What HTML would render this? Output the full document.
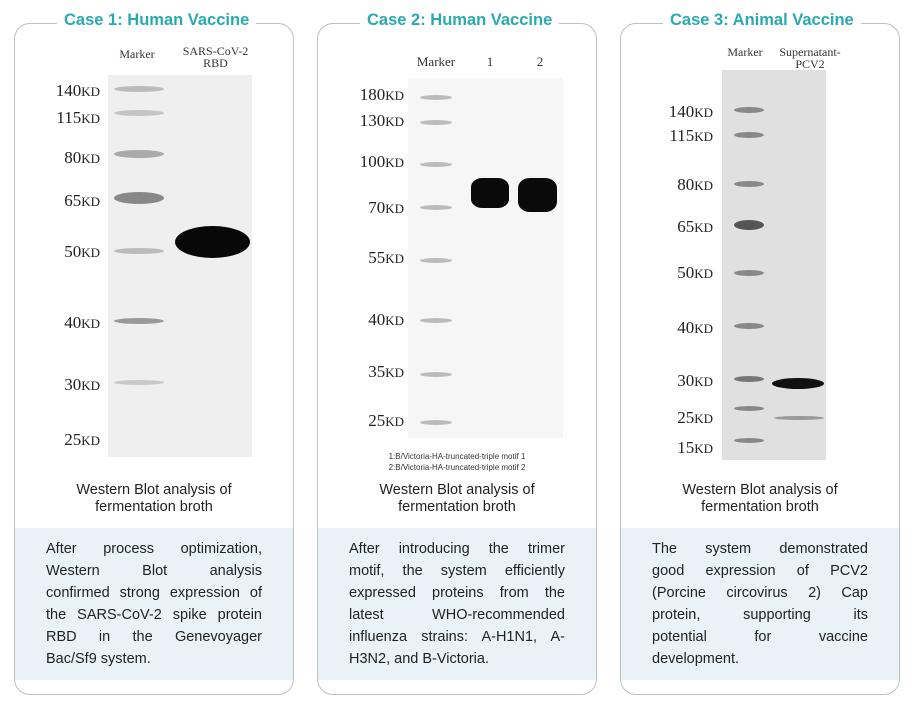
<!DOCTYPE html>
<html><head><meta charset="utf-8"><style>
*{margin:0;padding:0;box-sizing:border-box}
body{width:916px;height:713px;background:#fff;position:relative;font-family:"Liberation Sans",sans-serif;overflow:hidden}
.card{position:absolute;top:23px;width:280px;height:672px;border:1.5px solid #bfbfbf;border-radius:16px;overflow:hidden}
.title{position:absolute;top:11px;background:#fff;color:#2aa9b0;font-weight:bold;font-size:16.5px;padding:0 7px;white-space:nowrap}
.blue{position:absolute;left:0;right:0;top:504px;height:152px;background:#e9f3f7}
.txt{position:absolute;left:31px;width:216px;top:514px;font-size:14.5px;line-height:22px;color:#222}
.txt div{text-align:justify;text-align-last:justify;white-space:nowrap;overflow:visible}
.txt div.l{text-align-last:left}
.cap{position:absolute;left:0;right:0;top:458px;text-align:center;font-size:14.5px;line-height:17px;color:#222}
.gel{position:absolute;background:#efefef}
.lab{position:absolute;font-family:"Liberation Serif",serif;font-size:17px;color:#222;text-align:right;width:60px}
.lab small{font-size:13px}
.band{position:absolute;border-radius:50%}
.hd{position:absolute;font-family:"Liberation Serif",serif;font-size:12px;color:#333;text-align:center;line-height:12px}
</style></head><body>

<div class="card" style="left:14px"></div>
<div class="card" style="left:317px"></div>
<div class="card" style="left:620px"></div>
<div class="title" style="left:57px">Case 1: Human Vaccine</div>
<div class="title" style="left:360px">Case 2: Human Vaccine</div>
<div class="title" style="left:663px">Case 3: Animal Vaccine</div>

<!-- card1 -->
<div style="position:absolute;left:15px;top:24px;width:278px;height:670px">
<div class="blue"></div>
<div class="cap" style="top:458px">Western Blot analysis of<br>fermentation broth</div>
<div class="txt"><div>After process optimization,</div><div>Western Blot analysis</div><div>confirmed strong expression of</div><div>the SARS-CoV-2 spike protein</div><div>RBD in the Genevoyager</div><div class="l">Bac/Sf9 system.</div></div>
</div>
<div class="hd" style="left:112px;top:48px;width:50px">Marker</div>
<div class="hd" style="left:178px;top:45px;width:75px">SARS-CoV-2<br>RBD</div>
<div class="gel" style="left:108px;top:75px;width:144px;height:382px"></div>
<div class="band" style="left:114px;top:86px;width:50px;height:6px;background:#bbb"></div>
<div class="band" style="left:114px;top:110px;width:50px;height:6px;background:#c4c4c4"></div>
<div class="band" style="left:114px;top:150px;width:50px;height:8px;background:#aaa"></div>
<div class="band" style="left:114px;top:192px;width:50px;height:12px;background:#888"></div>
<div class="band" style="left:114px;top:248px;width:50px;height:6px;background:#bbb"></div>
<div class="band" style="left:114px;top:318px;width:50px;height:6px;background:#999"></div>
<div class="band" style="left:114px;top:380px;width:50px;height:5px;background:#c8c8c8"></div>
<div class="band" style="left:175px;top:226px;width:75px;height:32px;background:#080808"></div>
<div class="lab" style="left:40px;top:81px">140<small>KD</small></div>
<div class="lab" style="left:40px;top:108px">115<small>KD</small></div>
<div class="lab" style="left:40px;top:148px">80<small>KD</small></div>
<div class="lab" style="left:40px;top:191px">65<small>KD</small></div>
<div class="lab" style="left:40px;top:242px">50<small>KD</small></div>
<div class="lab" style="left:40px;top:313px">40<small>KD</small></div>
<div class="lab" style="left:40px;top:375px">30<small>KD</small></div>
<div class="lab" style="left:40px;top:430px">25<small>KD</small></div>

<!-- card2 -->
<div style="position:absolute;left:318px;top:24px;width:278px;height:670px">
<div class="blue"></div>
<div class="cap">Western Blot analysis of<br>fermentation broth</div>
<div class="txt"><div>After introducing the trimer</div><div>motif, the system efficiently</div><div>expressed proteins from the</div><div>latest WHO-recommended</div><div>influenza strains: A-H1N1, A-</div><div class="l">H3N2, and B-Victoria.</div></div>
</div>
<div class="hd" style="left:408px;top:56px;width:56px;font-size:13px">Marker</div>
<div class="hd" style="left:482px;top:56px;width:16px;font-size:13px">1</div>
<div class="hd" style="left:532px;top:56px;width:16px;font-size:13px">2</div>
<div class="gel" style="left:408px;top:78px;width:155px;height:360px;background:#f6f6f6"></div>
<div class="band" style="left:420px;top:95px;width:32px;height:5px;background:#bbb"></div>
<div class="band" style="left:420px;top:120px;width:32px;height:5px;background:#bbb"></div>
<div class="band" style="left:420px;top:162px;width:32px;height:5px;background:#bbb"></div>
<div class="band" style="left:420px;top:205px;width:32px;height:5px;background:#bbb"></div>
<div class="band" style="left:420px;top:258px;width:32px;height:5px;background:#bbb"></div>
<div class="band" style="left:420px;top:318px;width:32px;height:5px;background:#bbb"></div>
<div class="band" style="left:420px;top:372px;width:32px;height:5px;background:#bbb"></div>
<div class="band" style="left:420px;top:420px;width:32px;height:5px;background:#bbb"></div>
<div class="band" style="left:471px;top:178px;width:38px;height:30px;background:#0a0a0a;border-radius:30%"></div>
<div class="band" style="left:518px;top:178px;width:39px;height:34px;background:#0a0a0a;border-radius:30%"></div>
<div class="lab" style="left:344px;top:85px">180<small>KD</small></div>
<div class="lab" style="left:344px;top:111px">130<small>KD</small></div>
<div class="lab" style="left:344px;top:152px">100<small>KD</small></div>
<div class="lab" style="left:344px;top:198px">70<small>KD</small></div>
<div class="lab" style="left:344px;top:248px">55<small>KD</small></div>
<div class="lab" style="left:344px;top:310px">40<small>KD</small></div>
<div class="lab" style="left:344px;top:362px">35<small>KD</small></div>
<div class="lab" style="left:344px;top:411px">25<small>KD</small></div>
<div style="position:absolute;left:318px;top:451px;width:278px;text-align:center;font-size:8px;line-height:11px;color:#333">1:B/Victoria-HA-truncated-triple motif 1<br>2:B/Victoria-HA-truncated-triple motif 2</div>

<!-- card3 -->
<div style="position:absolute;left:621px;top:24px;width:278px;height:670px">
<div class="blue"></div>
<div class="cap">Western Blot analysis of<br>fermentation broth</div>
<div class="txt"><div>The system demonstrated</div><div>good expression of PCV2</div><div>(Porcine circovirus 2) Cap</div><div>protein, supporting its</div><div>potential for vaccine</div><div class="l">development.</div></div>
</div>
<div class="hd" style="left:720px;top:46px;width:50px">Marker</div>
<div class="hd" style="left:774px;top:46px;width:72px">Supernatant-<br>PCV2</div>
<div class="gel" style="left:722px;top:70px;width:104px;height:390px;background:#e0e0e0"></div>
<div class="band" style="left:734px;top:107px;width:30px;height:6px;background:#888"></div>
<div class="band" style="left:734px;top:132px;width:30px;height:6px;background:#888"></div>
<div class="band" style="left:734px;top:181px;width:30px;height:6px;background:#888"></div>
<div class="band" style="left:734px;top:220px;width:30px;height:10px;background:#555"></div>
<div class="band" style="left:734px;top:270px;width:30px;height:6px;background:#888"></div>
<div class="band" style="left:734px;top:323px;width:30px;height:6px;background:#888"></div>
<div class="band" style="left:734px;top:376px;width:30px;height:6px;background:#777"></div>
<div class="band" style="left:734px;top:406px;width:30px;height:5px;background:#888"></div>
<div class="band" style="left:734px;top:438px;width:30px;height:5px;background:#888"></div>
<div class="band" style="left:772px;top:378px;width:52px;height:11px;background:#111"></div>
<div class="band" style="left:774px;top:416px;width:50px;height:4px;background:#999"></div>
<div class="lab" style="left:653px;top:102px">140<small>KD</small></div>
<div class="lab" style="left:653px;top:126px">115<small>KD</small></div>
<div class="lab" style="left:653px;top:175px">80<small>KD</small></div>
<div class="lab" style="left:653px;top:217px">65<small>KD</small></div>
<div class="lab" style="left:653px;top:263px">50<small>KD</small></div>
<div class="lab" style="left:653px;top:318px">40<small>KD</small></div>
<div class="lab" style="left:653px;top:371px">30<small>KD</small></div>
<div class="lab" style="left:653px;top:408px">25<small>KD</small></div>
<div class="lab" style="left:653px;top:438px">15<small>KD</small></div>
</body></html>
